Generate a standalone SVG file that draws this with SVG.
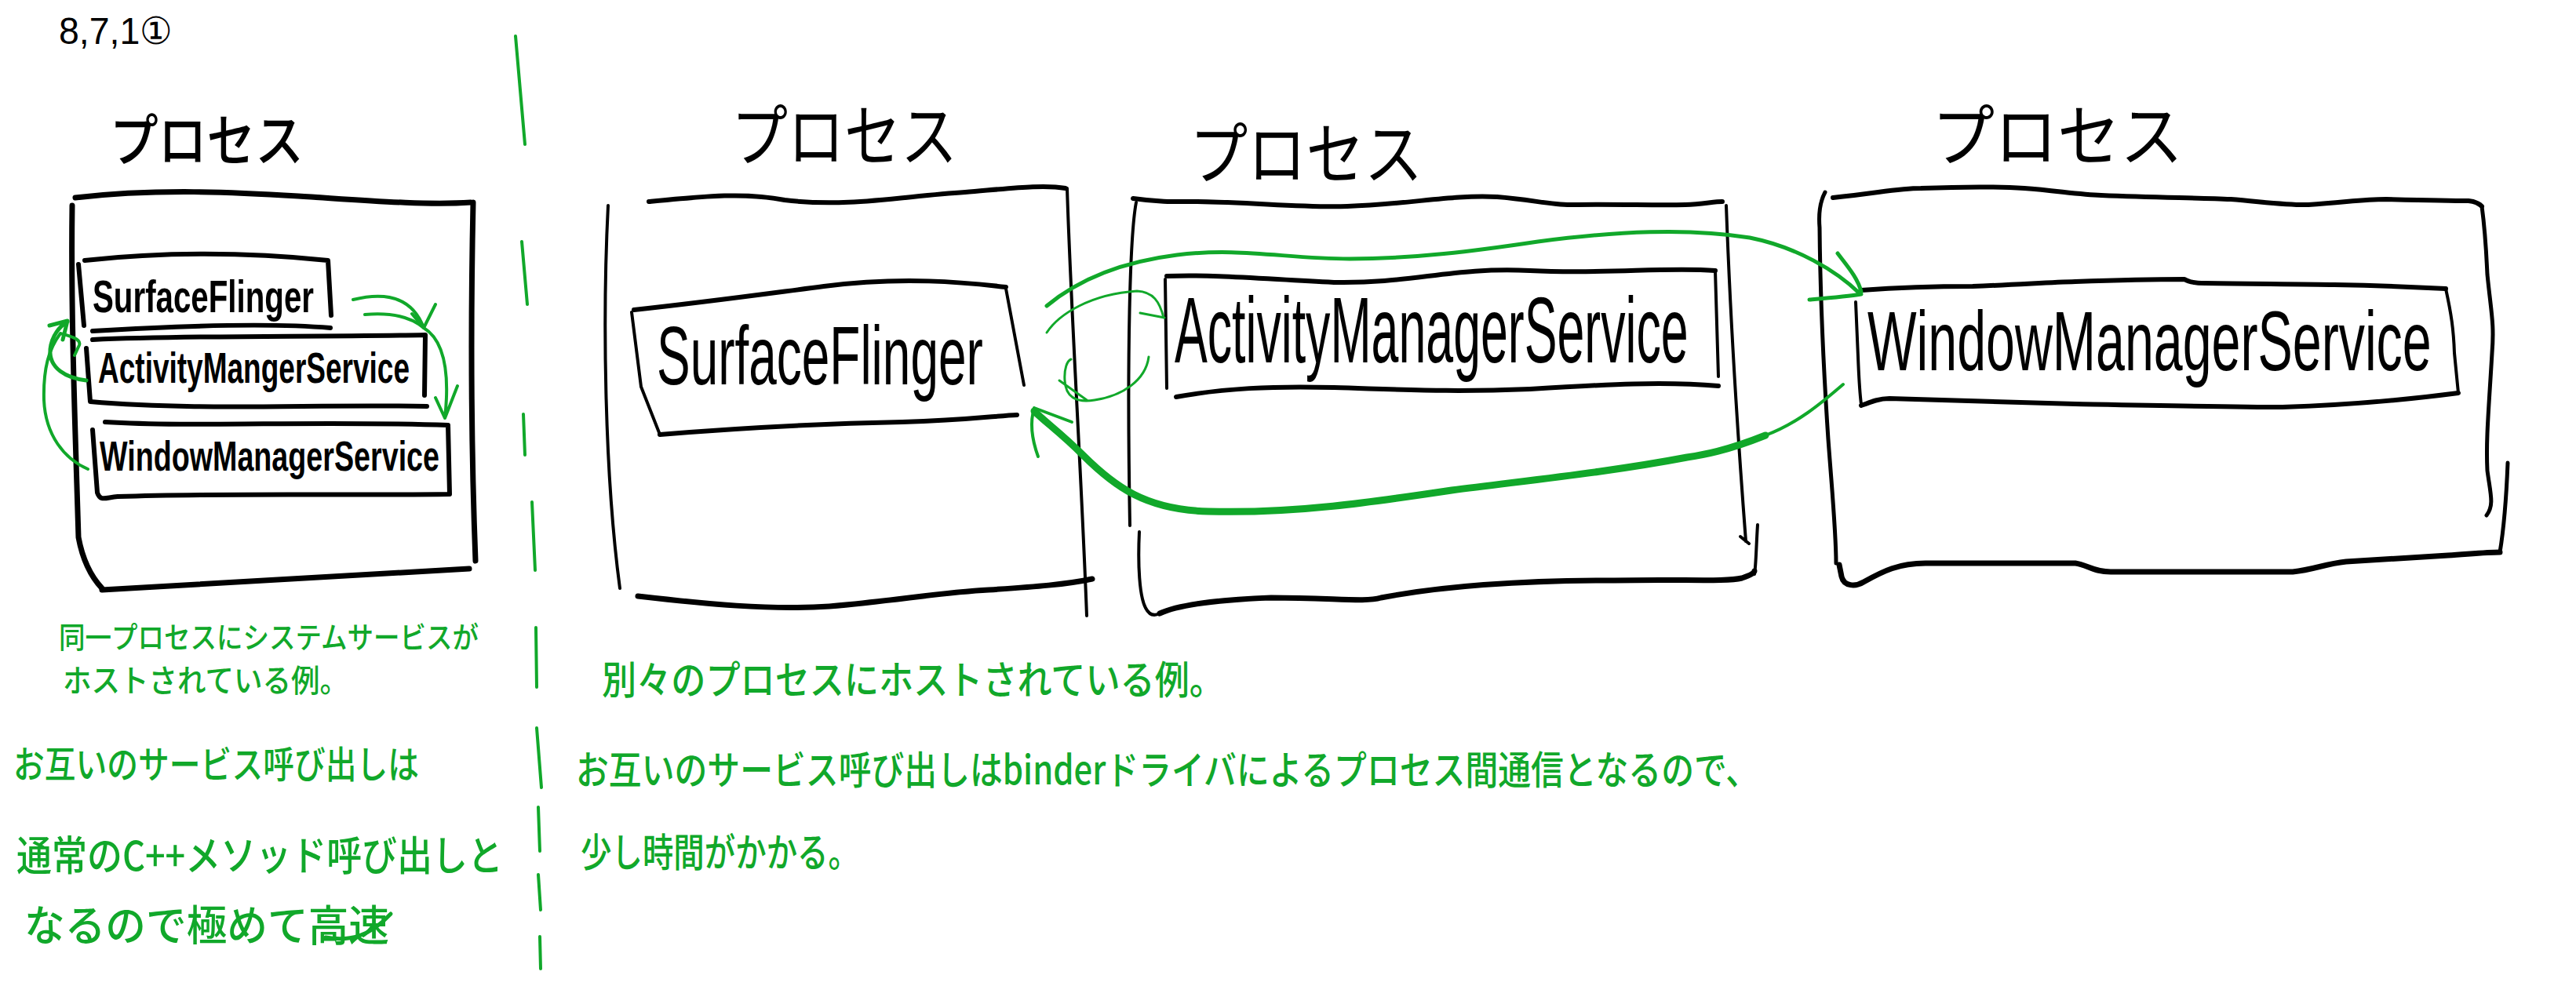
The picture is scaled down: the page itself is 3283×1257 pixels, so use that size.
<svg xmlns="http://www.w3.org/2000/svg" width="3283" height="1257" viewBox="0 0 3283 1257">
<style>
.k{fill:none;stroke:#000;stroke-linecap:round;stroke-linejoin:round}
.g{fill:none;stroke:#11a82a;stroke-linecap:round;stroke-linejoin:round}
.lbl{font-family:"Liberation Sans","Noto Sans",sans-serif;fill:#000}
.lb{font-weight:bold}
.jp{font-family:"Noto Sans CJK JP","Noto Sans",sans-serif}
.gt{font-family:"Noto Sans CJK JP","Noto Sans",sans-serif;fill:#11a82a;font-weight:500}
</style>
<rect width="3283" height="1257" fill="#fff"/>
<text class="lbl" x="75" y="56" font-size="48" textLength="145" lengthAdjust="spacingAndGlyphs">8,7,1①</text>

<g id="left-process">
<text class="jp" x="140" y="205" font-size="72" font-weight="500" textLength="247" lengthAdjust="spacingAndGlyphs">プロセス</text>
<path class="k" stroke-width="7" d="M96,252 C200,240 300,245 380,250 C460,255 540,262 600,258"/>
<path class="k" stroke-width="7" d="M603,258 C600,400 600,560 606,715"/>
<path class="k" stroke-width="7" d="M92,262 C90,400 96,550 100,685 C105,712 116,735 130,750"/>
<path class="k" stroke-width="7" d="M130,752 C250,745 420,735 598,725"/>
</g>
<g id="left-sf">
<path class="k" stroke-width="6" d="M100,337 L107,415 M108,332 C200,322 300,320 418,332 L422,402 M118,422 C250,414 350,412 421,418"/>
<text class="lbl lb" x="118" y="398" font-size="58" textLength="282" lengthAdjust="spacingAndGlyphs">SurfaceFlinger</text>
</g>
<g id="left-ams">
<path class="k" stroke-width="6" d="M118,433 C250,427 400,430 542,427 L541,504 M110,444 L115,512 C250,524 400,515 544,518"/>
<text class="lbl lb" x="125" y="488" font-size="56" textLength="397" lengthAdjust="spacingAndGlyphs">ActivityMangerService</text>
</g>
<g id="left-wms">
<path class="k" stroke-width="6" d="M134,538 C250,545 400,536 571,542 L573,630 M118,548 L124,628 C128,640 135,634 150,633 C300,628 450,632 572,630"/>
<text class="lbl lb" x="127" y="600" font-size="54" textLength="433" lengthAdjust="spacingAndGlyphs">WindowManagerService</text>
</g>

<g id="p1">
<text class="jp" x="932" y="205" font-size="86" textLength="288" lengthAdjust="spacingAndGlyphs">プロセス</text>
<path class="k" stroke-width="6" d="M827,257 C900,250 950,245 1000,255 C1080,265 1150,250 1230,245 C1290,240 1330,235 1358,240"/>
<path class="k" stroke-width="4" d="M775,262 C768,400 770,600 790,750"/>
<path class="k" stroke-width="4" d="M1360,240 C1365,400 1378,600 1385,785"/>
<path class="k" stroke-width="7" d="M813,760 C900,770 980,778 1057,773 C1140,766 1200,755 1260,752 C1320,748 1360,745 1392,738"/>
</g>
<g id="sf">
<path class="k" stroke-width="6" d="M808,395 C900,385 950,378 1050,365 C1150,352 1230,360 1282,366"/>
<path class="k" stroke-width="4" d="M805,398 L817,493 L841,554 M1282,368 L1305,491"/>
<path class="k" stroke-width="6" d="M841,554 C950,545 1050,540 1150,538 C1230,536 1270,530 1296,529"/>
<text class="lbl" transform="translate(837,490) scale(0.609,1)" x="0" y="0" font-size="105">SurfaceFlinger</text>
</g>

<g id="p2">
<text class="jp" x="1516" y="228" font-size="86" textLength="297" lengthAdjust="spacingAndGlyphs">プロセス</text>
<path class="k" stroke-width="6" d="M1444,253 C1480,258 1500,257 1526,257 C1600,258 1660,265 1717,263 C1800,260 1850,248 1908,251 C1950,254 1980,262 2004,261 C2060,260 2110,262 2148,261 C2170,260 2185,257 2195,257"/>
<path class="k" stroke-width="4" d="M1448,258 C1440,300 1436,450 1440,670 M1452,678 C1450,720 1452,760 1460,775 C1465,785 1472,785 1478,782"/>
<path class="k" stroke-width="4" d="M2200,262 C2205,400 2215,560 2225,690 M2218,684 L2229,693 M2240,669 C2238,700 2238,720 2236,732"/>
<path class="k" stroke-width="7" d="M1478,782 C1500,772 1540,765 1620,762 C1700,762 1740,768 1760,762 C1850,745 1950,740 2057,740 C2140,738 2200,742 2220,737 C2232,733 2236,730 2236,728"/>
</g>
<g id="ams">
<path class="k" stroke-width="6" d="M1487,352 C1550,350 1600,355 1700,360 C1800,362 1850,340 1950,345 C2050,350 2120,340 2186,345"/>
<path class="k" stroke-width="4" d="M1485,356 L1487,495 M2186,345 L2190,480"/>
<path class="k" stroke-width="6" d="M1499,506 C1560,495 1620,492 1700,494 C1800,497 1850,500 1950,496 C2050,490 2120,486 2190,492"/>
<text class="lbl" transform="translate(1497,462) scale(0.531,1)" x="0" y="0" font-size="118">ActivityManagerService</text>
</g>

<g id="p3">
<text class="jp" x="2462" y="205" font-size="86" textLength="320" lengthAdjust="spacingAndGlyphs">プロセス</text>
<path class="k" stroke-width="6" d="M2336,252 C2400,245 2420,240 2448,240 C2500,238 2550,238 2580,240 C2620,243 2650,248 2678,249 C2750,252 2800,252 2843,254 C2890,258 2920,262 2942,261 C2990,258 3010,254 3041,254 C3080,255 3120,256 3146,256 C3155,257 3160,260 3163,263"/>
<path class="k" stroke-width="5" d="M2326,245 C2318,260 2318,278 2319,290 C2320,400 2326,500 2330,560 C2336,640 2340,680 2340,718"/>
<path class="k" stroke-width="5" d="M3163,263 C3168,300 3169,330 3170,350 C3175,400 3179,412 3176,450 C3172,520 3168,560 3170,600 C3174,630 3179,644 3169,657 M3196,590 C3194,640 3190,680 3186,704"/>
<path class="k" stroke-width="7" d="M2344,720 L2347,735 C2350,748 2365,748 2375,742 C2400,728 2420,718 2454,718 C2520,718 2600,718 2645,718 C2660,720 2668,729 2690,729 C2780,729 2880,729 2922,729 C2950,726 2962,719 2990,716 C3050,712 3090,710 3120,708 C3150,706 3170,704 3186,704"/>
</g>
<g id="wms">
<path class="k" stroke-width="6" d="M2372,370 C2440,365 2480,365 2514,365 C2570,363 2610,360 2645,359 C2700,357 2750,356 2784,356 C2790,360 2797,361 2810,361 C2880,362 2940,362 2975,363 C3030,364 3080,366 3117,368"/>
<path class="k" stroke-width="4" d="M2365,385 L2368,455 C2369,480 2370,500 2372,515 M3117,368 C3124,400 3127,420 3128,450 C3130,470 3132,490 3133,501"/>
<path class="k" stroke-width="6" d="M2372,517 C2385,512 2395,508 2408,508 C2480,510 2560,513 2645,515 C2750,517 2850,519 2909,519 C3000,516 3080,508 3133,501"/>
<text class="lbl" transform="translate(2380,472) scale(0.614,1)" x="0" y="0" font-size="108">WindowManagerService</text>
</g>

<g id="connectors">
<path class="g" stroke-width="4" d="M450,382 C490,372 525,378 540,418 M555,388 L540,418 L525,400"/>
<path class="g" stroke-width="4" d="M465,401 C500,398 525,405 540,418 C560,430 575,460 567,533 M555,507 L567,533 L583,492"/>
<path class="g" stroke-width="5" d="M110,485 C85,482 62,470 64,445 C66,428 76,416 86,410 M63,415 L86,409 L80,433"/>
<path class="g" stroke-width="4" d="M112,598 C82,585 58,555 56,510 C55,470 62,445 77,425 C88,428 104,432 101,440 L95,453"/>
<path class="g" stroke-width="5" d="M1334,390 C1370,360 1420,335 1500,325 C1580,315 1640,330 1720,330 C1800,330 1880,320 1960,308 C2060,295 2150,290 2230,303 C2290,315 2340,345 2370,374 M2342,323 C2355,340 2368,355 2372,372 M2306,382 C2330,380 2355,378 2372,375"/>
<path class="g" stroke-width="3" d="M1334,424 C1350,400 1390,375 1449,371 C1470,372 1478,385 1483,405 M1453,399 L1484,405"/>
<path class="g" stroke-width="3" d="M1464,455 C1460,485 1430,505 1395,510 C1370,514 1358,505 1357,485 C1356,470 1360,460 1365,458 M1350,485 L1385,510"/>
<path class="g" stroke-width="4" d="M2349,490 C2320,515 2290,540 2250,555"/>
<path class="g" stroke-width="9" d="M2250,555 C2200,575 2170,580 2150,583 C2050,602 1950,612 1850,625 C1750,640 1650,655 1540,652 C1460,650 1420,620 1380,580 C1352,552 1332,538 1318,524"/>
<path class="g" stroke-width="4" d="M1323,582 C1315,560 1312,540 1318,520 L1366,538"/>
</g>

<g id="separator">
<path class="g" stroke-width="4" d="M657,46 L669,184 M665,308 L672,388 M667,528 L669,580 M678,640 L682,727 M683,800 L684,876 M684,928 L690,1004 M686,1029 L688,1085 M686,1115 L689,1160 M688,1194 L689,1235"/>
</g>

<g id="notes">
<text class="gt" x="75" y="826" font-size="38" textLength="535" lengthAdjust="spacingAndGlyphs">同一プロセスにシステムサービスが</text>
<text class="gt" x="80" y="882" font-size="40" textLength="364" lengthAdjust="spacingAndGlyphs">ホストされている例。</text>
<text class="gt" x="17" y="992" font-size="48" textLength="517" lengthAdjust="spacingAndGlyphs">お互いのサービス呼び出しは</text>
<text class="gt" x="21" y="1110" font-size="52" textLength="620" lengthAdjust="spacingAndGlyphs">通常のC++メソッド呼び出しと</text>
<text class="gt" x="31" y="1200" font-size="54" textLength="465" lengthAdjust="spacingAndGlyphs">なるので極めて高速</text>
<path class="g" stroke-width="5" d="M415,1195 C445,1200 470,1195 498,1165"/>
<text class="gt" x="767" y="885" font-size="50" textLength="793" lengthAdjust="spacingAndGlyphs">別々のプロセスにホストされている例。</text>
<text class="gt" x="734" y="1000" font-size="50" textLength="1507" lengthAdjust="spacingAndGlyphs">お互いのサービス呼び出しはbinderドライバによるプロセス間通信となるので、</text>
<text class="gt" x="740" y="1105" font-size="50" textLength="355" lengthAdjust="spacingAndGlyphs">少し時間がかかる。</text>
</g>
</svg>
